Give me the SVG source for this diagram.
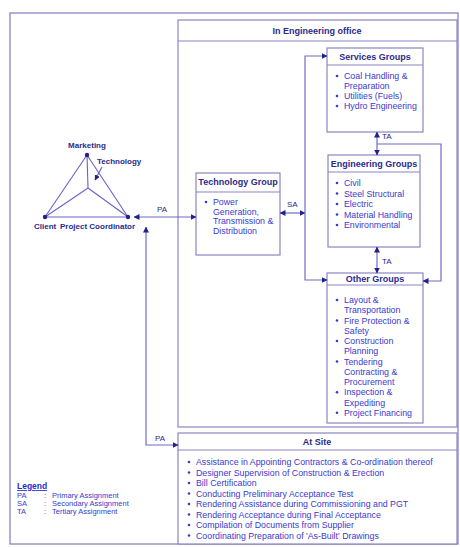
<svg xmlns="http://www.w3.org/2000/svg" width="460" height="547" viewBox="0 0 460 547">
<defs>
<marker id="ah" viewBox="0 0 6 6" refX="5.5" refY="3" markerWidth="5" markerHeight="5" orient="auto-start-reverse"><path d="M0,0 L6,3 L0,6 z" fill="#22228a"/></marker>
</defs>
<style>
.frame{fill:none;stroke:#8a86c2;stroke-width:1.3}
.box{fill:#fff;stroke:#8a86c2;stroke-width:1.2}
.sep{stroke:#8a86c2;stroke-width:1.2}
.ln{fill:none;stroke:#6f6cc4;stroke-width:1.2}
.tri{fill:none;stroke:#6a62c8;stroke-width:1.1}
.dot{fill:#22228a}
.h{font-family:"Liberation Sans",Arial,sans-serif;font-weight:bold;font-size:9px;fill:#2a2a8c;text-anchor:middle}
.t{font-family:"Liberation Sans",Arial,sans-serif;font-size:8.8px;fill:#3a3acc}
.b{fill:#3a3acc}
.lab{font-family:"Liberation Sans",Arial,sans-serif;font-weight:bold;font-size:8px;fill:#2a2a8c}
.cl{font-family:"Liberation Sans",Arial,sans-serif;font-size:8px;fill:#2a2a8c}
.lg{font-family:"Liberation Sans",Arial,sans-serif;font-size:7.5px;fill:#3a3acc}
</style>
<rect width="460" height="547" fill="#fff"/>
<rect class="frame" x="10" y="13" width="448" height="531"/>

<g id="engineering-office">
<rect class="box" x="178" y="20" width="279" height="407"/>
<line class="sep" x1="178" y1="41" x2="457" y2="41"/>
<text class="h" x="317" y="34">In Engineering office</text>
</g>

<g id="at-site">
<rect class="box" x="178" y="433" width="279" height="111"/>
<line class="sep" x1="178" y1="450" x2="457" y2="450"/>
<text class="h" x="317" y="445">At Site</text>
<g class="b">
<circle cx="189" cy="462" r="1.3"/><circle cx="189" cy="472.5" r="1.3"/><circle cx="189" cy="483" r="1.3"/><circle cx="189" cy="493.5" r="1.3"/><circle cx="189" cy="504" r="1.3"/><circle cx="189" cy="514.5" r="1.3"/><circle cx="189" cy="525" r="1.3"/><circle cx="189" cy="535.5" r="1.3"/>
</g>
<text class="t" x="196" y="465">Assistance in Appointing Contractors &amp; Co-ordination thereof</text>
<text class="t" x="196" y="475.5">Designer Supervision of Construction &amp; Erection</text>
<text class="t" x="196" y="486">Bill Certification</text>
<text class="t" x="196" y="496.5">Conducting Preliminary Acceptance Test</text>
<text class="t" x="196" y="507">Rendering Assistance during Commissioning and PGT</text>
<text class="t" x="196" y="517.5">Rendering Acceptance during Final Acceptance</text>
<text class="t" x="196" y="528">Compilation of Documents from Supplier</text>
<text class="t" x="196" y="538.5">Coordinating Preparation of 'As-Built' Drawings</text>
</g>

<g id="services-groups">
<rect class="box" x="327" y="48" width="96" height="84"/>
<line class="sep" x1="327" y1="65" x2="423" y2="65"/>
<text class="h" x="375" y="60">Services Groups</text>
<g class="b"><circle cx="337" cy="76" r="1.3"/><circle cx="337" cy="96" r="1.3"/><circle cx="337" cy="106" r="1.3"/></g>
<text class="t" x="344" y="79">Coal Handling &amp;</text>
<text class="t" x="344" y="89">Preparation</text>
<text class="t" x="344" y="99">Utilities (Fuels)</text>
<text class="t" x="344" y="109">Hydro Engineering</text>
</g>

<g id="engineering-groups">
<rect class="box" x="328" y="155" width="92" height="92"/>
<line class="sep" x1="328" y1="172" x2="420" y2="172"/>
<text class="h" x="374" y="167">Engineering Groups</text>
<g class="b"><circle cx="337" cy="183" r="1.3"/><circle cx="337" cy="193.5" r="1.3"/><circle cx="337" cy="204" r="1.3"/><circle cx="337" cy="214.5" r="1.3"/><circle cx="337" cy="225" r="1.3"/></g>
<text class="t" x="344" y="186">Civil</text>
<text class="t" x="344" y="196.5">Steel Structural</text>
<text class="t" x="344" y="207">Electric</text>
<text class="t" x="344" y="217.5">Material Handling</text>
<text class="t" x="344" y="228">Environmental</text>
</g>

<g id="other-groups">
<rect class="box" x="327" y="273" width="96" height="150"/>
<line class="sep" x1="327" y1="285" x2="423" y2="285"/>
<text class="h" x="375" y="282">Other Groups</text>
<g class="b"><circle cx="337" cy="300" r="1.3"/><circle cx="337" cy="320.5" r="1.3"/><circle cx="337" cy="341" r="1.3"/><circle cx="337" cy="361.5" r="1.3"/><circle cx="337" cy="392.3" r="1.3"/><circle cx="337" cy="412.8" r="1.3"/></g>
<text class="t" x="344" y="303">Layout &amp;</text>
<text class="t" x="344" y="313.3">Transportation</text>
<text class="t" x="344" y="323.5">Fire Protection &amp;</text>
<text class="t" x="344" y="333.8">Safety</text>
<text class="t" x="344" y="344">Construction</text>
<text class="t" x="344" y="354.3">Planning</text>
<text class="t" x="344" y="364.6">Tendering</text>
<text class="t" x="344" y="374.9">Contracting &amp;</text>
<text class="t" x="344" y="385.1">Procurement</text>
<text class="t" x="344" y="395.4">Inspection &amp;</text>
<text class="t" x="344" y="405.6">Expediting</text>
<text class="t" x="344" y="415.9">Project Financing</text>
</g>

<g id="technology-group">
<rect class="box" x="196" y="173" width="84" height="82"/>
<line class="sep" x1="196" y1="192" x2="280" y2="192"/>
<text class="h" x="238" y="185">Technology Group</text>
<circle class="b" cx="206" cy="202" r="1.3"/>
<text class="t" x="213" y="205">Power</text>
<text class="t" x="213" y="214.5">Generation,</text>
<text class="t" x="213" y="224">Transmission &amp;</text>
<text class="t" x="213" y="233.5">Distribution</text>
</g>

<g id="stakeholders">
<line class="tri" x1="87" y1="155" x2="45" y2="217"/>
<line class="tri" x1="87" y1="155" x2="128" y2="217"/>
<line class="tri" x1="45" y1="217" x2="128" y2="217"/>
<line class="tri" x1="87" y1="155" x2="88" y2="188"/>
<line class="tri" x1="88" y1="188" x2="45" y2="217"/>
<line class="tri" x1="88" y1="188" x2="128" y2="217"/>
<line class="tri" x1="102" y1="167" x2="95" y2="180" marker-end="url(#ah)"/>
<circle class="dot" cx="87" cy="155" r="2.2"/>
<circle class="dot" cx="45" cy="217" r="2.2"/>
<circle class="dot" cx="128" cy="217" r="2.2"/>
<text class="lab" x="87" y="148" text-anchor="middle">Marketing</text>
<text class="lab" x="97" y="164">Technology</text>
<text class="lab" x="34" y="229">Client</text>
<text class="lab" x="60" y="229">Project Coordinator</text>
</g>

<g id="connectors">
<line class="ln" x1="134" y1="217" x2="196" y2="217" marker-start="url(#ah)" marker-end="url(#ah)"/>
<text class="cl" x="157" y="212">PA</text>
<path class="ln" d="M146,227 V445 H178" marker-start="url(#ah)" marker-end="url(#ah)"/>
<text class="cl" x="155" y="441">PA</text>
<line class="ln" x1="280" y1="213" x2="305" y2="213" marker-start="url(#ah)" marker-end="url(#ah)"/>
<text class="cl" x="287" y="207">SA</text>
<path class="ln" d="M327,56 H305 V280 H327" marker-start="url(#ah)" marker-end="url(#ah)"/>
<line class="ln" x1="377" y1="132" x2="377" y2="155" marker-start="url(#ah)" marker-end="url(#ah)"/>
<text class="cl" x="382" y="139">TA</text>
<path class="ln" d="M377,144 H441 V281 H423" marker-end="url(#ah)"/>
<line class="ln" x1="377" y1="247" x2="377" y2="273" marker-start="url(#ah)" marker-end="url(#ah)"/>
<text class="cl" x="382" y="264">TA</text>
</g>

<g id="legend">
<text x="17" y="489" font-family="Liberation Sans, Arial, sans-serif" font-weight="bold" font-size="8.5" fill="#2a2acc" text-decoration="underline">Legend</text>
<text class="lg" x="17" y="498">PA</text><text class="lg" x="44" y="498">:</text><text class="lg" x="52" y="498">Primary Assignment</text>
<text class="lg" x="17" y="506">SA</text><text class="lg" x="44" y="506">:</text><text class="lg" x="52" y="506">Secondary Assignment</text>
<text class="lg" x="17" y="514">TA</text><text class="lg" x="44" y="514">:</text><text class="lg" x="52" y="514">Tertiary Assignment</text>
</g>
</svg>
